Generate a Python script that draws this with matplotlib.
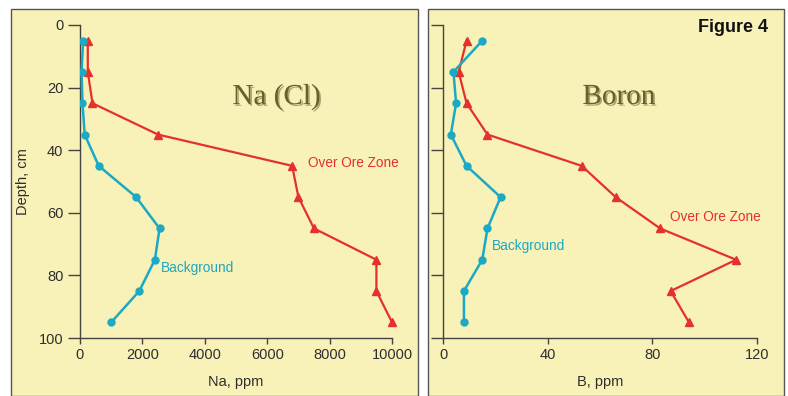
import matplotlib.pyplot as plt
from matplotlib.patches import Rectangle
import matplotlib.patheffects as pe

depth = [5, 15, 25, 35, 45, 55, 65, 75, 85, 95]

na_background = [100, 50, 80, 150, 600, 1800, 2550, 2400, 1900, 1000]
na_ore = [250, 250, 400, 2500, 6800, 7000, 7500, 9500, 9500, 10000]

b_background = [15, 4, 5, 3, 9, 22, 17, 15, 8, 8]
b_ore = [9, 6, 9, 17, 53, 66, 83, 112, 87, 94]

plt.rcParams['font.family'] = ['Liberation Sans', 'DejaVu Sans']

panel_bg = '#f8f1b8'
edge_col = '#555555'
red = '#e5312b'
cyan = '#1ba9c4'
title_col = '#6e5e28'
text_col = '#2e2e2e'

fig = plt.figure(figsize=(7.88, 3.96), dpi=100)
fig.patch.set_facecolor('white')

# panel backgrounds (pixel -> figure fraction)
W, H = 788.0, 396.0
for x0, x1 in [(11, 418), (428, 784)]:
    fig.patches.append(Rectangle((x0 / W, 0), (x1 - x0) / W, 1 - 9 / H,
                                 transform=fig.transFigure, facecolor=panel_bg,
                                 edgecolor=edge_col, linewidth=1.0, zorder=-5))

ax1 = fig.add_axes([80 / W, 1 - 338 / H, 312 / W, 313 / H])
ax2 = fig.add_axes([443 / W, 1 - 338 / H, 314 / W, 313 / H])


def _style(ax):
    ax.set_facecolor('none')
    for s in ['top', 'right']:
        ax.spines[s].set_visible(False)
    for s in ['left', 'bottom']:
        ax.spines[s].set_color('#444444')
        ax.spines[s].set_linewidth(1.0)
    ax.tick_params(colors='#444444', labelcolor=text_col, labelsize=10.5,
                   length=4, width=1.0)
    ax.tick_params(axis='y', length=8.5)
    ax.set_ylim(100, 0)
    ax.set_yticks([0, 20, 40, 60, 80, 100])


_style(ax1)
ax1.plot(na_ore, depth, color=red, lw=1.6, marker='^', ms=6, zorder=3, clip_on=False)
ax1.plot(na_background, depth, color=cyan, lw=1.8, marker='o', ms=5, zorder=3)
ax1.set_xlim(0, 10000)
ax1.set_xticks([0, 2000, 4000, 6000, 8000, 10000])
ax1.set_xlabel('Na, ppm', fontsize=10.5, color=text_col, labelpad=9)
ax1.set_ylabel('Depth, cm', fontsize=10.5, color=text_col, labelpad=6)
ax1.text(0.63, 0.77, 'Na (Cl)', transform=ax1.transAxes, ha='center', va='center',
         fontsize=21, family='Liberation Serif', color=title_col,
         path_effects=[pe.withSimplePatchShadow(offset=(1.2, -1.2), alpha=0.35)])
ax1.text(7300, 44, 'Over Ore Zone', color=red, fontsize=9.8, va='center', ha='left')
ax1.text(2600, 77.6, 'Background', color=cyan, fontsize=9.8, va='center', ha='left')

_style(ax2)
ax2.plot(b_ore, depth, color=red, lw=1.6, marker='^', ms=6, zorder=3)
ax2.plot(b_background, depth, color=cyan, lw=1.8, marker='o', ms=5, zorder=3)
ax2.set_xlim(0, 120)
ax2.set_xticks([0, 40, 80, 120])
ax2.set_yticklabels([])
ax2.set_xlabel('B, ppm', fontsize=10.5, color=text_col, labelpad=9)
ax2.text(0.56, 0.77, 'Boron', transform=ax2.transAxes, ha='center', va='center',
         fontsize=21, family='Liberation Serif', color=title_col,
         path_effects=[pe.withSimplePatchShadow(offset=(1.2, -1.2), alpha=0.35)])
ax2.text(86.8, 61.3, 'Over Ore Zone', color=red, fontsize=9.8, va='center', ha='left')
ax2.text(18.7, 70.6, 'Background', color=cyan, fontsize=9.8, va='center', ha='left')

fig.text(768 / W, 1 - 27 / H, 'Figure 4', ha='right', va='center', fontsize=13,
         fontweight='bold', color='#111111')

fig.savefig('out.png', dpi=100)
